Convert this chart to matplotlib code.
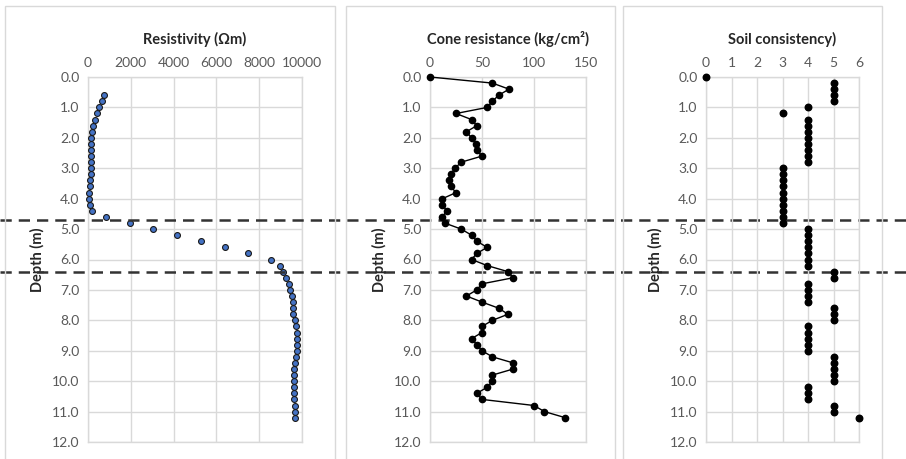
import numpy as np
import matplotlib
matplotlib.use("Agg")
import matplotlib.pyplot as plt
from matplotlib.patches import Rectangle
from matplotlib.transforms import blended_transform_factory

plt.rcParams['font.family'] = ['Lato', 'DejaVu Sans']

# depths (m)
res_depth = [0.6, 0.8, 1.0, 1.2, 1.4, 1.6, 1.8, 2.0, 2.2, 2.4, 2.6, 2.8, 3.0, 3.2, 3.4, 3.6, 3.8, 4.0,
             4.2, 4.4, 4.6, 4.8, 5.0, 5.2, 5.4, 5.6, 5.8, 6.0, 6.2, 6.4, 6.6, 6.8, 7.0, 7.2, 7.4, 7.6,
             7.8, 8.0, 8.2, 8.4, 8.6, 8.8, 9.0, 9.2, 9.4, 9.6, 9.8, 10.0, 10.2, 10.4, 10.6, 10.8, 11.0, 11.2]
resistivity = [760, 650, 530, 420, 330, 250, 190, 140, 130, 120, 140, 150, 160, 140, 110, 80, 60, 60,
               110, 190, 860, 1950, 3040, 4160, 5260, 6380, 7480, 8570, 8960, 9130, 9250, 9380, 9460, 9520, 9600, 9600,
               9600, 9660, 9720, 9750, 9750, 9750, 9750, 9700, 9670, 9640, 9620, 9630, 9640, 9640, 9640, 9650, 9650, 9660]

depth = [0.0, 0.2, 0.4, 0.6, 0.8, 1.0, 1.2, 1.4, 1.6, 1.8, 2.0, 2.2, 2.4, 2.6, 2.8, 3.0, 3.2, 3.4, 3.6,
         3.8, 4.0, 4.2, 4.4, 4.6, 4.8, 5.0, 5.2, 5.4, 5.6, 5.8, 6.0, 6.2, 6.4, 6.6, 6.8, 7.0, 7.2, 7.4,
         7.6, 7.8, 8.0, 8.2, 8.4, 8.6, 8.8, 9.0, 9.2, 9.4, 9.6, 9.8, 10.0, 10.2, 10.4, 10.6, 10.8, 11.0, 11.2]
cone = [0, 60, 76, 66, 60, 55, 25, 40, 45, 35, 40, 44, 45, 50, 30, 24, 20, 18, 20,
        25, 12, 12, 16, 12, 14, 30, 40, 45, 55, 45, 40, 55, 75, 80, 50, 45, 35, 50,
        66, 75, 60, 50, 50, 40, 45, 50, 60, 80, 80, 60, 60, 55, 45, 50, 100, 110, 130]
soil = [0, 5, 5, 5, 5, 4, 3, 4, 4, 4, 4, 4, 4, 4, 4, 3, 3, 3, 3,
        3, 3, 3, 3, 3, 3, 4, 4, 4, 4, 4, 4, 4, 5, 5, 4, 4, 4, 4,
        5, 5, 5, 4, 4, 4, 4, 4, 5, 5, 5, 5, 5, 4, 4, 4, 5, 5, 6]

layer_bounds = [4.7, 6.4]

grid_c = '#d9d9d9'
tick_c = '#595959'
text_c = '#262626'

W, H = 906, 459
fig = plt.figure(figsize=(W / 100, H / 100), dpi=100)

def fx(px):
    return px / W

def fy(py):
    return 1 - py / H

# chart area borders
for x0, x1 in [(5, 335), (346, 615), (623, 882)]:
    fig.add_artist(Rectangle((fx(x0), fy(470)), fx(x1 - x0), (470 - 6) / H,
                             transform=fig.transFigure, fill=False,
                             edgecolor='#d9d9d9', lw=1.0))

def make_ax(x0, x1, xmax, xstep, title):
    ax = fig.add_axes([fx(x0), fy(442), fx(x1 - x0), (442 - 77) / H])
    ax.set_xlim(0, xmax)
    ax.set_ylim(12, 0)
    ax.set_xticks(np.arange(0, xmax + xstep / 2, xstep))
    ax.set_yticks(np.arange(0, 12.5, 1.0))
    ax.yaxis.set_major_formatter(plt.FormatStrFormatter('%.1f'))
    ax.xaxis.tick_top()
    ax.tick_params(length=0, labelsize=10, labelcolor=tick_c, pad=6)
    ax.grid(True, color=grid_c, lw=1.0)
    ax.set_axisbelow(True)
    for s in ax.spines.values():
        s.set_color(grid_c)
        s.set_linewidth(1.0)
    ax.set_ylabel('Depth (m)', fontsize=10.5, fontweight='bold', color=text_c, labelpad=5)
    ax.set_title(title, fontsize=10.5, fontweight='bold', color=text_c, pad=24)
    ax.set_facecolor('none')
    return ax

ax1 = make_ax(88, 302, 10000, 2000, 'Resistivity (Ωm)')
ax1.scatter(resistivity, res_depth, s=18, c='#4472c4', edgecolors='#1a1a1a',
            linewidths=0.8, zorder=3, clip_on=False)

ax2 = make_ax(430, 586, 150, 50, 'Cone resistance (kg/cm²)')
ax2.plot(cone, depth, color='black', lw=1.0, marker='o', ms=4.5, zorder=3, clip_on=False)

ax3 = make_ax(706, 859, 6, 1, 'Soil consistency)')
ax3.scatter(soil, depth, s=22, c='black', zorder=3, clip_on=False)

# layer boundaries across the whole figure
tr = blended_transform_factory(fig.transFigure, ax1.transData)
for d in layer_bounds:
    ax1.plot([0, 1], [d, d], transform=tr, color='#333333', lw=1.8,
             dashes=(4.5, 2.8), clip_on=False, zorder=5)

fig.savefig('out.png', dpi=100)
